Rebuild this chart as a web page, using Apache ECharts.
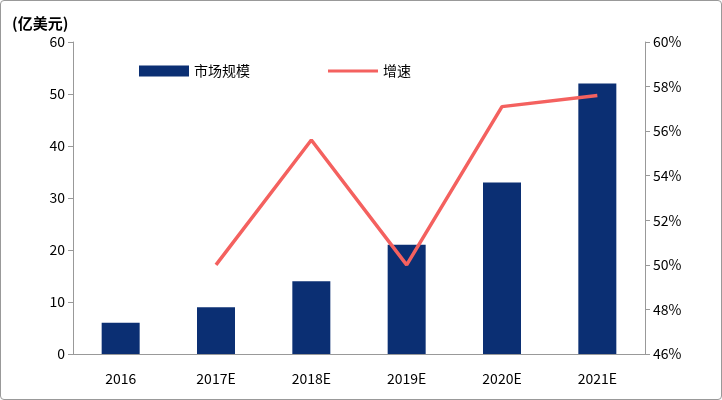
<!DOCTYPE html>
<html>
<head>
<meta charset="utf-8">
<script src="https://cdn.jsdelivr.net/npm/echarts@6/dist/echarts.min.js"></script>
<style>
  body { margin: 0; }
  #chart { width: 720px; height: 398px; border: 1px solid #999; border-radius: 4px; }
</style>
</head>
<body>
<div id="chart"></div>
<script>
// 数据
var categories = ['2016', '2017E', '2018E', '2019E', '2020E', '2021E'];
var marketSize = [6, 9, 14, 21, 33, 52];
var growth = [null, 50.0, 55.6, 50.0, 57.1, 57.6];

var myChart = echarts.init(document.getElementById('chart'));
var font = '"Noto Sans CJK SC", sans-serif';
var option = {
    animation: false,
    textStyle: { fontFamily: font },
    title: {
        text: '(亿美元)', left: 6, top: 10,
        textStyle: { fontSize: 15, fontWeight: 'bold', color: '#000', fontFamily: font }
    },
    legend: {
        top: 58, left: 133, itemGap: 78, itemWidth: 50, itemHeight: 11,
        textStyle: { fontSize: 14, color: '#000' },
        data: [{ name: '市场规模', icon: 'rect' }, { name: '增速', icon: 'path://M0,4 L50,4 L50,7 L0,7 Z' }]
    },
    grid: { left: 72, right: 76, top: 41, bottom: 45 },
    xAxis: {
        type: 'category', data: categories,
        axisLine: { lineStyle: { color: '#999' } },
        axisTick: { show: false },
        axisLabel: { color: '#000', fontSize: 14, margin: 18 }
    },
    yAxis: [{
        type: 'value', min: 0, max: 60, interval: 10,
        axisLine: { show: true, lineStyle: { color: '#999' } },
        axisTick: { show: true },
        splitLine: { show: false },
        axisLabel: { color: '#000', fontSize: 14 }
    }, {
        type: 'value', min: 46, max: 60, interval: 2,
        axisLine: { show: true, lineStyle: { color: '#999' } },
        axisTick: { show: true },
        splitLine: { show: false },
        axisLabel: { color: '#000', fontSize: 14, formatter: '{value}%' }
    }],
    series: [{
        name: '市场规模', type: 'bar', data: marketSize, barWidth: 38,
        itemStyle: { color: '#0b2f73' }
    }, {
        name: '增速', type: 'line', yAxisIndex: 1, data: growth,
        symbol: 'none', lineStyle: { color: '#f4615f', width: 3.5 },
        itemStyle: { color: '#f4615f' }
    }]
};
myChart.setOption(option);
</script>
</body>
</html>
